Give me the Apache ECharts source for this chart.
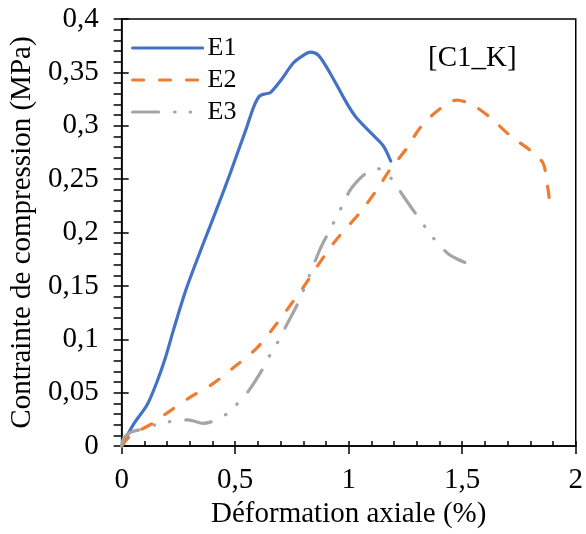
<!DOCTYPE html>
<html>
<head>
<meta charset="utf-8">
<script src="https://cdn.jsdelivr.net/npm/echarts@6/dist/echarts.min.js"></script>
<style>
html,body{margin:0;padding:0;background:#fff;}
#chart{width:586px;height:534px;}
</style>
</head>
<body>
<div id="chart"></div>
<script>
const seriesNames = ['E1', 'E2', 'E3'];
const e1X = [0, 0.054, 0.113, 0.157, 0.193, 0.230, 0.281, 0.333, 0.384, 0.435, 0.479, 0.516, 0.550, 0.582, 0.608, 0.635, 0.655, 0.699, 0.757, 0.80, 0.831, 0.867, 0.919, 0.992, 1.036, 1.109, 1.153, 1.185];
const e1Y = [0, 0.021, 0.039, 0.061, 0.083, 0.110, 0.145, 0.175, 0.203, 0.231, 0.256, 0.278, 0.298, 0.318, 0.328, 0.330, 0.331, 0.342, 0.359, 0.366, 0.369, 0.366, 0.349, 0.321, 0.307, 0.291, 0.281, 0.267];
const e2X = [0, 0.04, 0.135, 0.193, 0.311, 0.406, 0.501, 0.596, 0.684, 0.75, 0.801, 0.889, 0.948, 1.051, 1.124, 1.182, 1.256, 1.314, 1.402, 1.476, 1.541, 1.622, 1.710, 1.805, 1.856, 1.871, 1.886];
const e2Y = [0, 0.010, 0.021, 0.030, 0.047, 0.059, 0.075, 0.092, 0.115, 0.134, 0.149, 0.177, 0.194, 0.219, 0.240, 0.259, 0.279, 0.298, 0.316, 0.324, 0.320, 0.308, 0.291, 0.276, 0.265, 0.250, 0.228];
const e3X = [0, 0.01, 0.04, 0.091, 0.149, 0.215, 0.289, 0.325, 0.355, 0.398, 0.462, 0.511, 0.560, 0.623, 0.655, 0.692, 0.728, 0.779, 0.831, 0.875, 0.911, 0.974, 1.007, 1.051, 1.087, 1.12, 1.153, 1.201, 1.241, 1.307, 1.351, 1.392, 1.439, 1.48, 1.512];
const e3Y = [0, 0.008, 0.013, 0.016, 0.020, 0.023, 0.0245, 0.023, 0.0213, 0.023, 0.030, 0.040, 0.052, 0.073, 0.086, 0.099, 0.114, 0.135, 0.162, 0.185, 0.200, 0.226, 0.240, 0.251, 0.257, 0.260, 0.258, 0.247, 0.234, 0.214, 0.201, 0.190, 0.180, 0.175, 0.172];
const xTickLabels = ['0', '0,5', '1', '1,5', '2'];
const yTickLabels = ['0', '0,05', '0,1', '0,15', '0,2', '0,25', '0,3', '0,35', '0,4'];
const xTitle = 'Déformation axiale (%)';
const yTitle = 'Contrainte de compression (MPa)';
const annotation = '[C1_K]';

const pairs = (xs, ys) => xs.map((x, i) => [x, ys[i]]);
const FONT = 'Liberation Serif';
const chart = echarts.init(document.getElementById('chart'), null, {renderer: 'canvas'});
const axisLine = {show: true, lineStyle: {color: '#000', width: 1.5}};
chart.setOption({
  animation: false,
  backgroundColor: '#fff',
  textStyle: {fontFamily: FONT, color: '#000'},
  grid: {left: 121, right: 10, top: 19, bottom: 85, show: true, borderColor: '#000', borderWidth: 1.5, backgroundColor: 'transparent'},
  legend: {
    left: 131, top: 35, orient: 'vertical', padding: 0, itemGap: 6,
    itemWidth: 70, itemHeight: 14,
    data: seriesNames,
    itemStyle: {opacity: 0, borderWidth: 0},
    lineStyle: {width: 3.2},
    textStyle: {fontFamily: FONT, fontSize: 26, color: '#000', lineHeight: 26}
  },
  graphic: [{
    type: 'text', left: 428, top: 44,
    style: {text: annotation, font: '29px "Liberation Serif"', fill: '#000'}
  }],
  xAxis: [{
    type: 'value', min: 0, max: 2, interval: 0.5, position: 'bottom',
    axisLine: axisLine,
    axisTick: {show: true, inside: false, length: 8, lineStyle: {color: '#000', width: 1.5}},
    axisLabel: {margin: 20, fontFamily: FONT, fontSize: 29, color: '#000',
      formatter: v => xTickLabels[Math.round(v / 0.5)]},
    splitLine: {show: false},
    name: xTitle, nameLocation: 'middle', nameGap: 53,
    nameTextStyle: {fontFamily: FONT, fontSize: 29, color: '#000'}
  }, {
    type: 'value', min: 0, max: 2, interval: 0.1, position: 'bottom',
    axisLine: {show: false},
    axisTick: {show: true, inside: true, length: 5, lineStyle: {color: '#000', width: 1.5}},
    axisLabel: {show: false}, splitLine: {show: false}
  }],
  yAxis: [{
    type: 'value', min: 0, max: 0.4, interval: 0.05,
    axisLine: axisLine,
    axisTick: {show: true, inside: false, length: 8, lineStyle: {color: '#000', width: 1.5}},
    minorTick: {show: true, splitNumber: 5, length: 8, lineStyle: {color: '#000', width: 1.5}},
    axisLabel: {margin: 23, fontFamily: FONT, fontSize: 29, color: '#000',
      formatter: v => yTickLabels[Math.round(v / 0.05)]},
    splitLine: {show: false},
    name: yTitle, nameLocation: 'middle', nameGap: 84, nameRotate: 90,
    nameTextStyle: {fontFamily: FONT, fontSize: 29, color: '#000'}
  }, {
    type: 'value', min: 0, max: 0.4, interval: 0.05, position: 'left',
    axisLine: {show: false},
    axisTick: {show: true, inside: true, length: 7, lineStyle: {color: '#000', width: 1.5}},
    axisLabel: {show: false}, splitLine: {show: false}
  }],
  series: [{
    name: 'E1', type: 'line', data: pairs(e1X, e1Y), symbol: 'none', smooth: 0.3,
    lineStyle: {color: '#4472C4', width: 3.2, cap: 'round'}, itemStyle: {color: '#4472C4'}
  }, {
    name: 'E2', type: 'line', data: pairs(e2X, e2Y), symbol: 'none', smooth: 0.3,
    lineStyle: {color: '#ED7D31', width: 3.2, type: [11, 16], cap: 'round'}, itemStyle: {color: '#ED7D31'}
  }, {
    name: 'E3', type: 'line', data: pairs(e3X, e3Y), symbol: 'none', smooth: 0.3,
    lineStyle: {color: '#A5A5A5', width: 3.2, type: [26, 16, 0.5, 15, 0.5, 16], cap: 'round'}, itemStyle: {color: '#A5A5A5'}
  }]
});
</script>
</body>
</html>
